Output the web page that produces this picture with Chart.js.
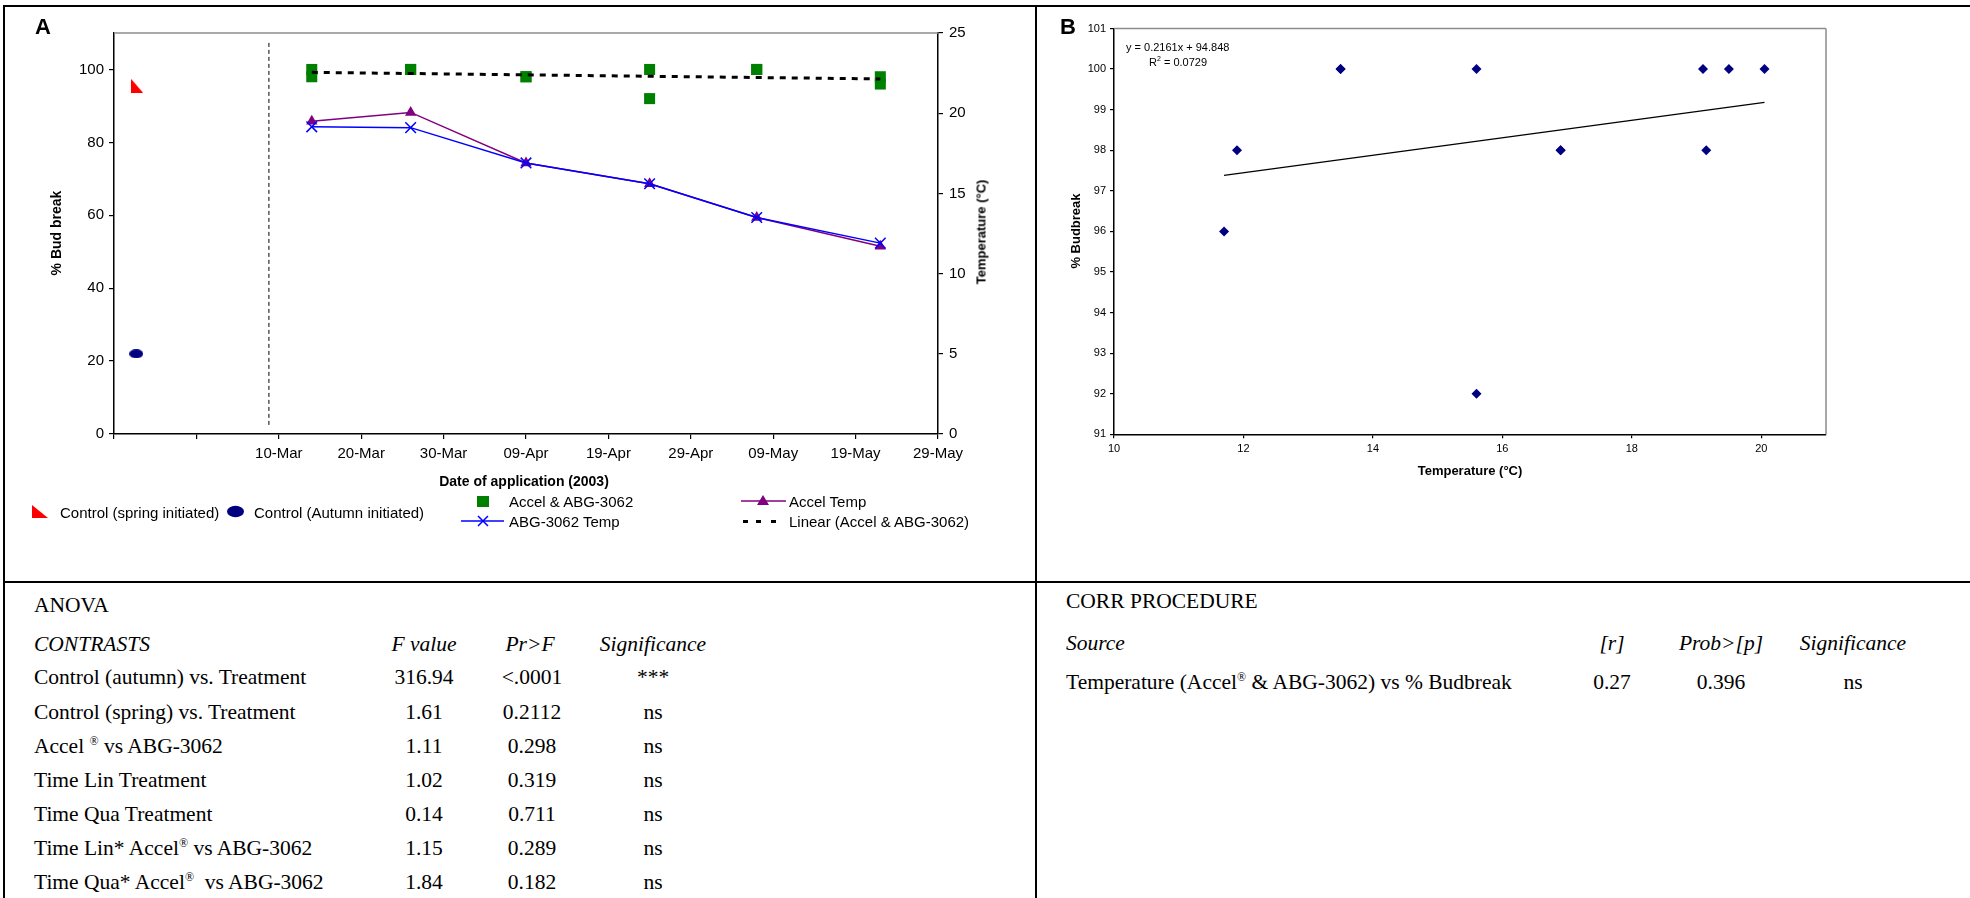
<!DOCTYPE html>
<html>
<head>
<meta charset="utf-8">
<title>Bud break vs date of application / temperature</title>
<script src="https://cdn.jsdelivr.net/npm/chart.js@4.4.1/dist/chart.umd.min.js"></script>
<style>
    body { margin: 0; width: 1970px; height: 898px; position: relative; overflow: hidden; background: #fff; color: #000; font-family: 'Liberation Sans', Arial, sans-serif; }
    canvas { position: absolute; }
    .rule { position: absolute; background: #000; }
    .t { position: absolute; white-space: nowrap; line-height: 1; }
    .c { transform: translate(-50%, -50%); }
    .l { transform: translateY(-50%); }
    .vt { transform: translate(-50%, -50%) rotate(-90deg); font-weight: bold; }
    .serif { font-family: 'Liberation Serif', 'Times New Roman', serif; font-size: 21.5px; }
    .serif sup { font-size: 12px; vertical-align: 8px; line-height: 0; }
    .leg { font-size: 15px; }
</style>
</head>
<body>

<!-- table rules -->
<div class="rule" style="left:3px; top:5px; width:1967px; height:2px;"></div>
<div class="rule" style="left:3px; top:5px; width:2px; height:893px;"></div>
<div class="rule" style="left:1035px; top:5px; width:2px; height:893px;"></div>
<div class="rule" style="left:3px; top:581px; width:1967px; height:2px;"></div>

<canvas id="chartA" width="1030" height="575" style="left:0; top:0;"></canvas>
<canvas id="chartB" width="925" height="575" style="left:1040px; top:0;"></canvas>

<!-- panel A labels -->
<div class="t c" style="left:43px; top:27px; font-size:22px; font-weight:bold;">A</div>
<div class="t vt" style="left:56px; top:233px; font-size:14px;">% Bud break</div>
<div class="t vt" style="left:981px; top:232px; font-size:13px;">Temperature (°C)</div>
<div class="t c" style="left:524px; top:481px; font-size:14px; font-weight:bold;">Date of application (2003)</div>

<!-- panel A legend -->
<svg style="position:absolute; left:0; top:0;" width="1030" height="575">
    <polygon points="32,505 32,518 48,518" fill="#ff0000"/>
    <ellipse cx="235.5" cy="511.5" rx="8.5" ry="5.7" fill="#000080"/>
    <rect x="477" y="496" width="12" height="11" fill="#008000"/>
    <line x1="461" y1="521" x2="504" y2="521" stroke="#0000ff" stroke-width="1.5"/>
    <path d="M478 516 L488 526 M488 516 L478 526" stroke="#0000ff" stroke-width="1.5"/>
    <line x1="741" y1="501" x2="786" y2="501" stroke="#800080" stroke-width="1.5"/>
    <polygon points="763,495 769,505 757,505" fill="#800080"/>
    <rect x="743" y="520" width="5" height="3" fill="#000"/>
    <rect x="756" y="520" width="5" height="3" fill="#000"/>
    <rect x="771" y="520" width="5" height="3" fill="#000"/>
</svg>
<div class="t l leg" style="left:60px; top:512px;">Control (spring initiated)</div>
<div class="t l leg" style="left:254px; top:512px;">Control (Autumn initiated)</div>
<div class="t l leg" style="left:509px; top:501px;">Accel &amp; ABG-3062</div>
<div class="t l leg" style="left:509px; top:521px;">ABG-3062 Temp</div>
<div class="t l leg" style="left:789px; top:501px;">Accel Temp</div>
<div class="t l leg" style="left:789px; top:521px;">Linear (Accel &amp; ABG-3062)</div>

<!-- panel B labels -->
<div class="t c" style="left:1068px; top:27px; font-size:22px; font-weight:bold;">B</div>
<div class="t vt" style="left:1075px; top:231px; font-size:13px;">% Budbreak</div>
<div class="t c" style="left:1470px; top:470px; font-size:13px; font-weight:bold;">Temperature (°C)</div>
<div class="t l" style="left:1126px; top:47px; font-size:11px;">y = 0.2161x + 94.848</div>
<div class="t l" style="left:1149px; top:62px; font-size:11px;">R<sup style="font-size:7px; vertical-align:5px; line-height:0;">2</sup> = 0.0729</div>

<div id="tables"></div>

<script>
// ---- Panel A: % bud break and temperature by date of application ----
// x values are days after 18-Feb-2003, one tick every 10 days
const xTickLabels = ['', '', '10-Mar', '20-Mar', '30-Mar', '09-Apr', '19-Apr', '29-Apr', '09-May', '19-May', '29-May'];
const appDays = [24, 36, 50, 65, 78, 93];
const accelBudbreak = [100, 100, 98, 100, 100, 96];
const abgBudbreak = [98, 100, 98, 92, 100, 98];
const accelTemp = [19.5, 20.05, 16.9, 15.6, 13.5, 11.7];
const abgTemp = [19.15, 19.1, 16.9, 15.6, 13.5, 11.9];
const trendDays = [24, 93];
const trendBudbreak = [99.2, 97.4];
const springControlDay = [2.8];
const springControl = [95.5];
const autumnControlDay = [2.7];
const autumnControl = [22];
const dividerDays = [18.8, 18.8];
const dividerLevels = [2.5, 108];

// ---- Panel B: % budbreak vs temperature ----
const corrTemp = [11.7, 11.9, 13.5, 13.5, 15.6, 15.6, 16.9, 16.9, 19.1, 19.15, 19.5, 20.05];
const corrBudbreak = [96, 98, 100, 100, 100, 92, 98, 98, 100, 98, 100, 100];
const fitTemp = [11.7, 20.05];
const fitBudbreak = [97.38, 99.18];

// ---- stats tables (text only) ----
const anovaRows = [
    ['Control (autumn) vs. Treatment', '316.94', '&lt;.0001', '***'],
    ['Control (spring) vs. Treatment', '1.61', '0.2112', 'ns'],
    ['Accel <sup>®</sup> vs ABG-3062', '1.11', '0.298', 'ns'],
    ['Time Lin Treatment', '1.02', '0.319', 'ns'],
    ['Time Qua Treatment', '0.14', '0.711', 'ns'],
    ['Time Lin* Accel<sup>®</sup> vs ABG-3062', '1.15', '0.289', 'ns'],
    ['Time Qua* Accel<sup>®</sup>&nbsp; vs ABG-3062', '1.84', '0.182', 'ns'],
];
const corrRows = [
    ['Temperature (Accel<sup>®</sup> &amp; ABG-3062) vs % Budbreak', '0.27', '0.396', 'ns'],
];

const pts = (xs, ys) => xs.map((x, i) => ({ x: x, y: ys[i] }));

// marker images for the two controls
function makeMarker(w, h, draw) {
    const c = document.createElement('canvas');
    c.width = w; c.height = h;
    draw(c.getContext('2d'));
    return c;
}
const rightTriangle = makeMarker(12, 14, ctx => {
    ctx.fillStyle = '#ff0000';
    ctx.beginPath(); ctx.moveTo(0, 0); ctx.lineTo(0, 14); ctx.lineTo(12, 14); ctx.closePath(); ctx.fill();
});
const flatDot = makeMarker(14, 9, ctx => {
    ctx.fillStyle = '#000080';
    ctx.beginPath(); ctx.ellipse(7, 4.5, 7, 4.5, 0, 0, Math.PI * 2); ctx.fill();
});

// gray top (and right) edge of the plot box
const frameLines = {
    id: 'frameLines',
    beforeDatasetsDraw(chart, args, opts) {
        const { ctx, chartArea: a } = chart;
        ctx.save();
        ctx.strokeStyle = '#8c8c8c';
        ctx.lineWidth = 1.5;
        ctx.beginPath();
        ctx.moveTo(a.left, a.top); ctx.lineTo(a.right, a.top);
        if (opts.right) { ctx.moveTo(a.right, a.top); ctx.lineTo(a.right, a.bottom); }
        ctx.stroke();
        ctx.restore();
    }
};

Chart.defaults.font.family = "'Liberation Sans', Arial, sans-serif";
Chart.defaults.color = '#000';

const axisGrid = { drawOnChartArea: false, drawTicks: true, tickLength: 5, color: '#000', lineWidth: 1.2 };
const axisBorder = { display: true, color: '#000', width: 1.5 };

new Chart(document.getElementById('chartA'), {
    type: 'scatter',
    data: {
        datasets: [
            {
                label: 'ABG-3062 Temp', data: pts(appDays, abgTemp), yAxisID: 'yT', showLine: true,
                borderColor: '#0000ff', backgroundColor: '#0000ff', borderWidth: 1.5,
                pointStyle: 'crossRot', pointRadius: 7.5, pointBorderWidth: 1.5, order: 0
            },
            {
                label: 'Accel Temp', data: pts(appDays, accelTemp), yAxisID: 'yT', showLine: true,
                borderColor: '#800080', backgroundColor: '#800080', borderWidth: 1.5,
                pointStyle: 'triangle', pointRadius: 6.5, pointBorderWidth: 0, order: 1
            },
            {
                label: 'Linear (Accel & ABG-3062)', data: pts(trendDays, trendBudbreak), showLine: true,
                borderColor: '#000', backgroundColor: '#000', borderWidth: 3, borderDash: [6, 6],
                pointRadius: 0, order: 2
            },
            {
                label: 'Accel & ABG-3062', data: pts(appDays, accelBudbreak).concat(pts(appDays, abgBudbreak)),
                backgroundColor: '#008000', borderColor: '#008000',
                pointStyle: 'rect', pointRadius: 7.8, pointBorderWidth: 0, order: 3
            },
            {
                label: 'Control (spring initiated)', data: pts(springControlDay, springControl),
                pointStyle: rightTriangle, pointRadius: 7, order: 4
            },
            {
                label: 'Control (Autumn initiated)', data: pts(autumnControlDay, autumnControl),
                pointStyle: flatDot, pointRadius: 7, order: 5
            },
            {
                label: 'divider', data: pts(dividerDays, dividerLevels), showLine: true,
                borderColor: '#000', borderWidth: 1, borderDash: [4, 3], pointRadius: 0, order: 6
            }
        ]
    },
    options: {
        responsive: false,
        animation: false,
        devicePixelRatio: 1,
        layout: { autoPadding: false, padding: { left: 0, top: 33, right: 0, bottom: 101 } },
        plugins: { legend: { display: false }, tooltip: { enabled: false }, frameLines: { right: false } },
        scales: {
            x: {
                type: 'linear', min: 0, max: 100,
                afterFit: s => { s.height = 40; },
                ticks: {
                    stepSize: 10, autoSkip: false, maxRotation: 0, padding: 6, font: { size: 15 },
                    callback: v => xTickLabels[Math.round(v / 10)] ?? ''
                },
                grid: axisGrid, border: axisBorder
            },
            y: {
                position: 'left', min: 0, max: 110,
                afterFit: s => { s.width = 114; },
                ticks: { stepSize: 20, includeBounds: false, padding: 5, font: { size: 15 } },
                grid: axisGrid, border: axisBorder
            },
            yT: {
                position: 'right', min: 0, max: 25,
                afterFit: s => { s.width = 92; },
                ticks: { stepSize: 5, padding: 6, font: { size: 15 } },
                grid: axisGrid, border: axisBorder
            }
        }
    },
    plugins: [frameLines]
});

new Chart(document.getElementById('chartB'), {
    type: 'scatter',
    data: {
        datasets: [
            {
                label: '% Budbreak', data: pts(corrTemp, corrBudbreak),
                backgroundColor: '#000080', borderColor: '#000080',
                pointStyle: 'rectRot', pointRadius: 5, pointBorderWidth: 0
            },
            {
                label: 'Linear fit', data: pts(fitTemp, fitBudbreak), showLine: true,
                borderColor: '#000', borderWidth: 1.3, pointRadius: 0
            }
        ]
    },
    options: {
        responsive: false,
        animation: false,
        devicePixelRatio: 1,
        layout: { autoPadding: false, padding: { left: 0, top: 28.5, right: 139, bottom: 110.7 } },
        plugins: { legend: { display: false }, tooltip: { enabled: false }, frameLines: { right: true } },
        scales: {
            x: {
                type: 'linear', min: 10, max: 21,
                afterFit: s => { s.height = 30; },
                ticks: { stepSize: 2, includeBounds: false, maxRotation: 0, padding: 4, font: { size: 11 } },
                grid: { ...axisGrid, tickLength: 4 }, border: axisBorder
            },
            y: {
                min: 91, max: 101,
                afterFit: s => { s.width = 74; },
                ticks: { stepSize: 1, padding: 4, font: { size: 11 } },
                grid: { ...axisGrid, tickLength: 4 }, border: axisBorder
            }
        }
    },
    plugins: [frameLines]
});

// ---- tables ----
const tables = document.getElementById('tables');
function put(html, x, y, cls, style) {
    const d = document.createElement('div');
    d.className = 't serif ' + cls;
    d.style.left = x + 'px';
    d.style.top = y + 'px';
    if (style) d.style.cssText += style;
    d.innerHTML = html;
    tables.appendChild(d);
}

put('ANOVA', 34, 606, 'l');
put('CONTRASTS', 34, 645, 'l', 'font-style:italic;');
put('F value', 424, 645, 'c', 'font-style:italic;');
put('Pr&gt;F', 530, 645, 'c', 'font-style:italic;');
put('Significance', 653, 645, 'c', 'font-style:italic;');
const anovaY = [678, 713, 747, 781, 815, 849, 883];
anovaRows.forEach((r, i) => {
    put(r[0], 34, anovaY[i], 'l');
    put(r[1], 424, anovaY[i], 'c');
    put(r[2], 532, anovaY[i], 'c');
    put(r[3], 653, anovaY[i], 'c');
});

put('CORR PROCEDURE', 1066, 602, 'l');
put('Source', 1066, 644, 'l', 'font-style:italic;');
put('[r]', 1612, 644, 'c', 'font-style:italic;');
put('Prob&gt;[p]', 1721, 644, 'c', 'font-style:italic;');
put('Significance', 1853, 644, 'c', 'font-style:italic;');
corrRows.forEach((r, i) => {
    const y = 683 + i * 34;
    put(r[0], 1066, y, 'l');
    put(r[1], 1612, y, 'c');
    put(r[2], 1721, y, 'c');
    put(r[3], 1853, y, 'c');
});
</script>
</body>
</html>
